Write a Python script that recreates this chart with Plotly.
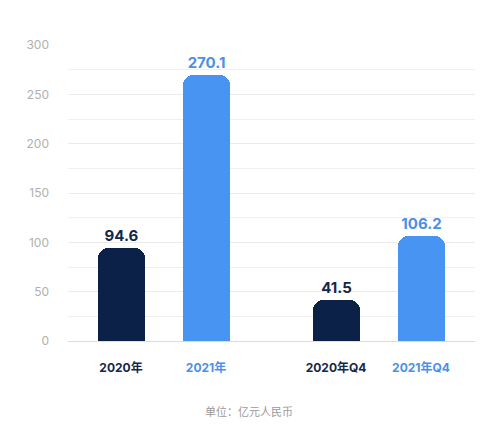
import plotly.graph_objects as go

categories = ["2020年", "2021年", "2020年Q4", "2021年Q4"]
values = [94.6, 270.1, 41.5, 106.2]
value_labels = ["94.6", "270.1", "41.5", "106.2"]
y_ticks = [0, 50, 100, 150, 200, 250, 300]
unit_note = "单位：亿元人民币"

NAVY = "#0b2148"
BLUE = "#4894f2"
bar_colors = [NAVY, BLUE, NAVY, BLUE]
label_colors = ["#14284a", "#4a90e6", "#14284a", "#4a90e6"]

# group layout: two pairs, extra gap between pairs
group_gap = 0.53
xpos = [i + (group_gap if i >= 2 else 0) for i in range(len(categories))]

FONT = "Inter, 'Noto Sans CJK SC', sans-serif"

fig = go.Figure(go.Bar(
    x=xpos, y=values, width=0.553,
    marker=dict(color=bar_colors, cornerradius=10, line=dict(width=0)),
    text=value_labels, textposition="outside",
    textfont=dict(color=label_colors, size=15, family=FONT, weight="bold"),
    cliponaxis=False,
))

ticktext = [f"<span style='color:{c}'><b>{t}</b></span>" for t, c in zip(categories, label_colors)]

fig.update_layout(
    width=497, height=438,
    margin=dict(l=60, r=30, t=37, b=105),
    plot_bgcolor="white", paper_bgcolor="white",
    showlegend=False,
    font=dict(family=FONT),
    bargap=0,
    xaxis=dict(
        range=[-0.624, 4.165], tickvals=xpos, ticktext=ticktext,
        showgrid=False, zeroline=False, showline=False,
        tickfont=dict(size=12, family=FONT), ticklabelstandoff=18,
    ),
    yaxis=dict(
        range=[0, 300], tickvals=y_ticks,
        showgrid=True, gridcolor="#ebebeb", gridwidth=1,
        minor=dict(dtick=25, showgrid=True, gridcolor="#f0f0f0", gridwidth=1),
        zeroline=True, zerolinecolor="#dcdcdc", zerolinewidth=1,
        tickfont=dict(size=12, color="#b0b0b0", family=FONT),
        ticklabelstandoff=18,
    ),
    annotations=[dict(
        text=unit_note, x=0.445, xref="paper", y=0, yref="paper",
        xanchor="center", yanchor="middle", yshift=-71, showarrow=False,
        font=dict(size=11, color="#9a9a9a", family=FONT),
    )],
)

fig.write_html("out.html")
